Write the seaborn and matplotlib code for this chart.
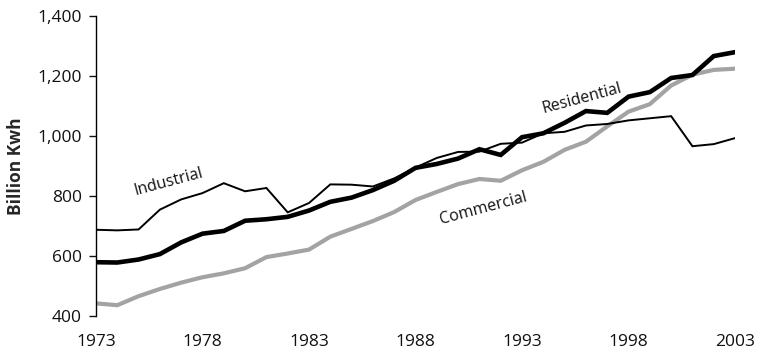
import matplotlib
matplotlib.use("Agg")
import matplotlib.pyplot as plt
import seaborn as sns
import pandas as pd

years = list(range(1973, 2004))

residential = [579, 578, 588, 606, 645, 674, 683, 717, 722, 730, 751, 780, 794, 819,
               850, 893, 906, 924, 955, 936, 995, 1008, 1043, 1082, 1076, 1130, 1145,
               1192, 1202, 1265, 1278]
commercial = [442, 436, 466, 490, 511, 529, 542, 559, 596, 608, 621, 664, 690, 716,
              746, 786, 813, 839, 856, 850, 885, 913, 953, 980, 1031, 1080, 1105,
              1167, 1203, 1219, 1223]
industrial = [687, 685, 688, 754, 788, 809, 842, 815, 826, 745, 776, 838, 837, 831,
              858, 894, 926, 946, 947, 973, 977, 1008, 1013, 1034, 1039, 1051, 1058,
              1065, 965, 972, 992]

y_ticks = [400, 600, 800, 1000, 1200, 1400]
x_ticks = [1973, 1978, 1983, 1988, 1993, 1998, 2003]

df = pd.DataFrame({"Year": years,
                   "Industrial": industrial,
                   "Residential": residential,
                   "Commercial": commercial})
long_df = df.melt(id_vars="Year", var_name="Sector", value_name="Kwh")

sns.set_style("white")
plt.rcParams["font.family"] = ["Open Sans", "DejaVu Sans"]

fig = plt.figure(figsize=(7.57, 3.58), dpi=100)
ax = fig.add_axes([0.1268, 0.1173, 0.971 - 0.1268, 0.9567 - 0.1173])

styles = {
    "Commercial": dict(color="#a3a3a3", lw=3.0),
    "Industrial": dict(color="#000000", lw=1.4),
    "Residential": dict(color="#000000", lw=3.3),
}
for name in ["Commercial", "Industrial", "Residential"]:
    sub = long_df[long_df["Sector"] == name]
    sns.lineplot(data=sub, x="Year", y="Kwh", ax=ax, color=styles[name]["color"],
                 lw=styles[name]["lw"], legend=False, solid_joinstyle="miter")

ax.set_xlim(1973, 2003)
ax.set_ylim(400, 1400)
ax.set_xticks(x_ticks)
ax.set_xticklabels([str(t) for t in x_ticks])
ax.set_yticks(y_ticks)
ax.set_yticklabels([f"{t:,}" for t in y_ticks])

ax.tick_params(axis="x", length=0, pad=13, labelsize=12.5, colors="#111111")
ax.tick_params(axis="y", length=5, width=1, pad=5, labelsize=12.5, left=True,
               direction="out", colors="#111111")

for side in ["top", "right", "bottom"]:
    ax.spines[side].set_visible(False)
ax.spines["left"].set_color("#000000")
ax.spines["left"].set_linewidth(1)

ax.set_xlabel("")
ax.set_ylabel("Billion Kwh", fontsize=12.5, fontweight="bold", labelpad=9)

label_kw = dict(fontsize=11.5, rotation=15, ha="center", va="center", color="#111111",
                rotation_mode="anchor")
ax.text(1976.4, 847, "Industrial", **label_kw)
ax.text(1991.2, 758, "Commercial", **label_kw)
ax.text(1995.8, 1124, "Residential", **label_kw)

fig.savefig("out.png", dpi=100)
